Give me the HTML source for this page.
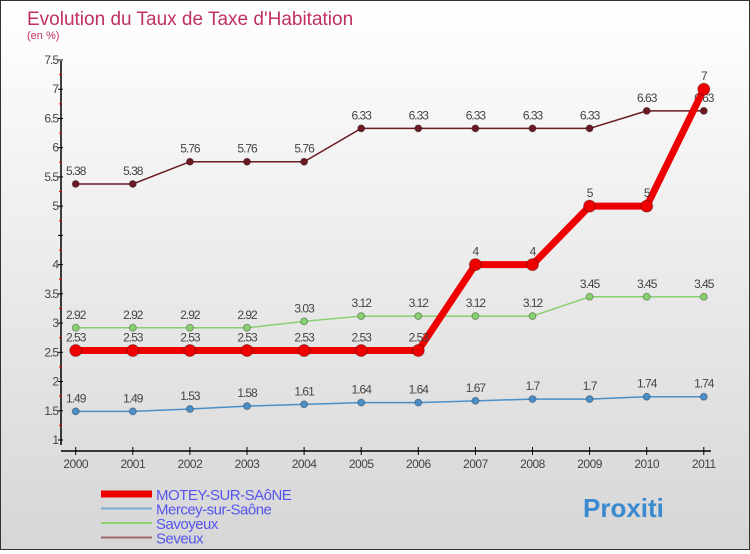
<!DOCTYPE html>
<html><head><meta charset="utf-8"><style>
body{margin:0}
#c{width:748px;height:548px;border:1px solid #333;background:linear-gradient(#fff,#d6d6d6);position:relative;font-family:"Liberation Sans",sans-serif}
</style></head><body>
<div id="c">
<svg id="s" width="748" height="548" xmlns="http://www.w3.org/2000/svg"></svg>
</div>
<script>
const years=[2000,2001,2002,2003,2004,2005,2006,2007,2008,2009,2010,2011];
const motey=[2.53,2.53,2.53,2.53,2.53,2.53,2.53,4,4,5,5,7];
const mercey=[1.49,1.49,1.53,1.58,1.61,1.64,1.64,1.67,1.7,1.7,1.74,1.74];
const savoyeux=[2.92,2.92,2.92,2.92,3.03,3.12,3.12,3.12,3.12,3.45,3.45,3.45];
const seveux=[5.38,5.38,5.76,5.76,5.76,6.33,6.33,6.33,6.33,6.33,6.63,6.63];
const yTicks=[1,1.5,2,2.5,3,3.5,4,4.5,5,5.5,6,6.5,7,7.5];
const s=document.getElementById('s');
const NS='http://www.w3.org/2000/svg';
function X(i){return 74.7+i*57.1;}
function Y(v){return 439-(v-1)*58.46;}
function el(t,a,txt){const e=document.createElementNS(NS,t);for(const k in a)e.setAttribute(k,a[k]);if(txt!==undefined)e.textContent=txt;s.appendChild(e);return e;}
function fmt(v){return String(v);}
let e;
e=el('text',{x:26,y:24,'font-size':19,fill:'#c03060'},'Evolution du Taux de Taxe d\'Habitation');

e=el('text',{x:26,y:38,'font-size':11,fill:'#c03060'},'(en %)');

e=el('line',{x1:60,y1:60,x2:60,y2:444,stroke:'#000','stroke-width':1.5});

e=el('line',{x1:60,y1:450,x2:710,y2:450,stroke:'#000','stroke-width':1.5});

yTicks.forEach(v=>{
 e=el('line',{x1:57,x2:62,y1:Y(v),y2:Y(v),stroke:'#000'});
 
 if(v<7.5){
 e=el('line',{x1:58,x2:61,y1:Y(v+0.25),y2:Y(v+0.25),stroke:'#e00'});
 
 }
 if(v!==4.5){
 e=el('text',{x:57,y:Y(v)+4,'font-size':12,fill:'#444','text-anchor':'end','letter-spacing':'-1'},fmt(v));
 
 }
});
years.forEach((y,i)=>{
 e=el('line',{x1:X(i),x2:X(i),y1:446,y2:454,stroke:'#000'});
 
 e=el('text',{x:X(i),y:467,'font-size':12,fill:'#444','text-anchor':'middle','letter-spacing':'-0.5'},y);
 
});
function series(data,color,w,r,name){
 e=el('polyline',{points:data.map((v,i)=>X(i)+','+Y(v)).join(' '),fill:'none',stroke:color,'stroke-width':w});
 
 data.forEach((v,i)=>{
  e=el('circle',{cx:X(i),cy:Y(v),r:r,fill:color,stroke:'rgba(0,0,0,0.3)'});
  
  e=el('text',{x:X(i),y:Y(v)-9,'font-size':12,fill:'#444','text-anchor':'middle','letter-spacing':'-1'},fmt(v));
  
 });
}
series(seveux,'#6b1a22',1.5,3.5,'seveux');
series(savoyeux,'#88d070',1.5,3.5,'savoyeux');
series(mercey,'#4a8fc8',1.5,3.5,'mercey');
series(motey,'#ee0000',7,6,'motey');
const leg=[['MOTEY-SUR-SAôNE','#ee0000',7],['Mercey-sur-Saône','#7aaed0',2],['Savoyeux','#90d070',2],['Seveux','#a06868',2]];
leg.forEach((l,i)=>{
 const y=493+i*14.5;
 e=el('line',{x1:100,x2:151,y1:y,y2:y,stroke:l[1],'stroke-width':l[2]});
 
 e=el('text',{x:155,y:y+6,'font-size':15,fill:'#5555ee','letter-spacing':'-0.5'},l[0]);
 
});
e=el('text',{x:582,y:516,'font-size':26,'font-weight':'bold',fill:'#3a8ad0'},'Proxiti');

</script>
</body></html>
